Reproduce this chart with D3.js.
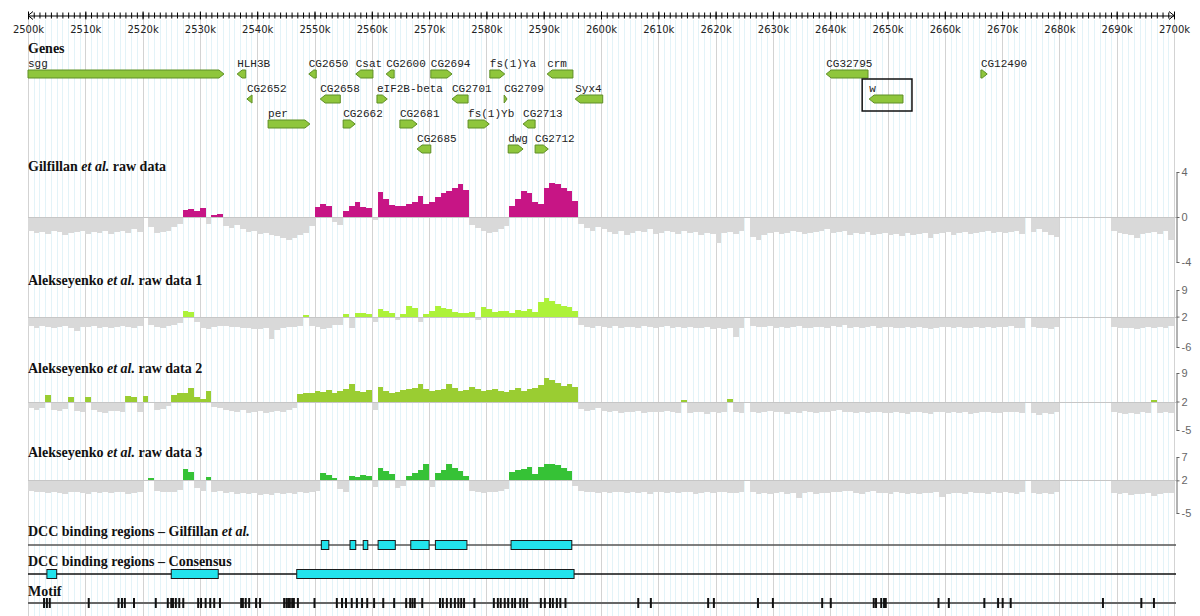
<!DOCTYPE html>
<html>
<head>
<meta charset="utf-8">
<script src="https://cdn.jsdelivr.net/npm/d3@7"></script>
<style>
body { margin: 0; background: #fff; }
svg { display: block; font-family: "DejaVu Sans", sans-serif; }
.title { font-family: "Liberation Serif", serif; font-weight: bold; font-size: 14px; fill: #111; }
.glabel { font-family: "Liberation Mono", monospace; font-size: 11px; fill: #222; }
</style>
</head>
<body>
<div id="chart"></div>
<script>
// ---------------- data ----------------
var regionStart = 2500000, regionEnd = 2700000, binSize = 1000;
var majorTicks = d3.range(2500000, 2700001, 10000);
var minorTicks = d3.range(2500000, 2700001, 1000);

var geneNames  = ["sgg", "HLH3B", "CG2652", "per", "CG2650", "CG2658", "CG2662", "Csat", "eIF2B-beta", "CG2600",
                  "CG2681", "CG2685", "CG2694", "CG2701", "fs(1)Yb", "fs(1)Ya", "CG2709", "dwg", "CG2713", "CG2712",
                  "crm", "Syx4", "CG32795", "w", "CG12490"];
var geneStart  = [2500000, 2536500, 2538200, 2541900, 2549000, 2551000, 2555000, 2557200, 2560900, 2562500,
                  2564900, 2567900, 2570300, 2574000, 2576800, 2580600, 2583100, 2583800, 2586400, 2588500,
                  2590600, 2595500, 2639300, 2646800, 2666300];
var geneEnd    = [2534200, 2538000, 2539100, 2549200, 2550300, 2554500, 2557100, 2560200, 2562700, 2563900,
                  2567900, 2570300, 2574000, 2576800, 2580500, 2583200, 2583600, 2586400, 2588500, 2590800,
                  2595100, 2600300, 2646600, 2652700, 2667400];
var geneStrand = [1, -1, -1, 1, -1, -1, 1, -1, 1, -1,
                  1, -1, 1, -1, 1, 1, 1, 1, -1, 1,
                  -1, -1, -1, -1, 1];
var geneLevel  = [0, 0, 1, 2, 0, 1, 2, 0, 1, 0,
                  2, 3, 0, 1, 2, 0, 1, 3, 2, 3,
                  0, 1, 0, 1, 0];
var highlightGene = "w";

// 1 kb bins, 2500k .. 2699k  (null = no data)
var gilfillan = [
  -1.2,-1.4,-1.3,-1.5,-1.2,-1.3,-1.6,-1.4,-1.3,-1.2,
  -1.5,-1.3,-1.4,-1.2,-1.5,-1.3,-1.2,-1.4,-1.1,-1.3,
  null,-0.9,-1.4,-1.3,-1.2,-0.9,-0.6,0.6,0.7,0.5,
  0.8,-0.6,0.2,0.3,-0.8,-1.0,-0.7,-1.1,-1.3,-1.2,
  -1.5,-1.4,-1.6,-1.7,-1.9,-2.0,-1.9,-1.6,-1.4,-0.8,
  0.9,1.2,1.0,-0.4,-0.7,0.5,1.0,1.3,0.9,0.8,
  -0.3,2.2,1.6,1.1,1.0,1.0,1.2,1.3,1.9,1.2,
  1.3,1.8,2.1,2.3,2.6,2.9,2.4,-0.7,-1.0,-1.2,
  -1.4,-1.3,-1.1,-0.8,1.0,1.6,2.3,2.1,1.3,1.2,
  2.6,3.0,2.9,2.6,2.3,1.4,-0.6,-1.0,-1.2,-0.9,
  -1.1,-1.3,-1.5,-1.2,-1.6,-1.4,-1.2,-1.3,-1.1,-1.5,
  -1.4,-1.2,-1.3,-1.5,-1.2,-1.4,-1.3,-1.6,-1.4,-1.5,
  -2.3,-1.4,-1.3,-1.5,-1.2,null,-1.8,-2.0,-1.6,-1.4,
  -1.3,-1.5,-1.4,-1.2,-1.3,-1.5,-1.4,-1.3,-1.2,-1.1,
  -1.4,-1.3,-1.2,-1.6,-1.4,-1.5,-1.3,-1.6,-1.5,-1.4,
  -1.6,-1.5,-1.7,-1.4,-1.6,-1.5,-1.4,-1.9,-1.5,-1.4,
  -1.3,-1.6,-1.4,-1.3,-1.5,-1.4,-1.3,-1.2,-1.4,-1.3,
  -1.4,-1.3,-1.2,-1.5,null,-1.3,-1.1,-1.3,-1.6,-1.8,
  null,null,null,null,null,null,null,null,null,-1.2,
  -1.4,-1.5,-1.6,-1.9,-1.5,-1.4,-1.3,-1.5,-1.2,-2.0
];
var alek1 = [
  -0.5,-0.9,-0.6,-0.7,-1.1,-0.8,-0.6,-1.0,-1.9,-0.7,
  -0.8,-0.6,-0.9,-0.7,-1.0,-0.8,-0.5,-0.7,-0.9,-0.6,
  null,-0.3,-0.7,-0.9,-0.6,-0.2,0.4,3.5,3.1,0.6,
  -0.9,-1.2,-0.7,-0.5,-0.6,-0.8,-0.7,-1.0,-0.9,-1.2,
  -1.3,-1.1,-3.8,-1.5,-1.0,-0.8,-0.7,-0.6,2.5,-0.5,
  -0.8,-1.2,-1.0,-0.3,-0.1,2.8,-1.0,2.9,3.0,2.6,
  0.6,4.0,3.6,2.9,1.0,2.7,4.9,4.3,0.5,2.8,
  3.4,4.7,4.3,4.0,3.3,3.0,2.9,3.3,1.0,4.4,
  4.0,3.1,3.6,3.4,2.9,3.7,3.5,4.0,3.2,5.8,
  6.8,6.2,5.3,4.8,4.4,3.5,-0.2,-0.8,-0.9,-0.6,
  -0.7,-0.9,-0.6,-1.0,-0.8,-0.7,-0.9,-0.5,-0.8,-1.0,
  -0.7,-0.6,-0.9,-0.8,-1.0,-0.7,-0.9,-1.1,-0.8,-1.2,
  -1.0,-1.3,-0.9,-3.3,-1.1,null,-0.5,-0.8,-0.7,-0.6,
  -0.9,-0.7,-1.0,-0.8,-0.6,-0.9,-1.1,-0.7,-0.8,-1.0,
  -0.5,-0.7,-0.2,-0.9,-0.8,-1.0,-0.7,-0.6,-0.9,-0.7,
  -0.8,-1.0,-0.9,-0.7,-1.1,-0.8,-1.0,-1.2,-0.9,-0.7,
  -0.8,-1.0,-0.7,-0.9,-1.1,-0.8,-1.0,-0.7,-0.9,-0.8,
  -0.7,-0.5,-0.9,-1.0,null,-0.7,-1.1,-0.9,-1.2,-0.8,
  null,null,null,null,null,null,null,null,null,-0.7,
  -0.9,-1.1,-1.0,-1.3,-0.9,-0.8,-1.0,-0.7,-0.9,-0.6
];
var alek2 = [
  0.5,-0.2,0.3,3.5,0.0,-0.4,0.2,3.0,-0.3,-0.5,
  3.2,-0.2,-0.6,-0.8,-0.4,-0.3,-0.7,3.3,3.0,-0.5,
  3.4,null,-0.2,0.2,0.8,3.5,4.2,4.0,5.2,3.0,
  2.6,4.7,0.6,0.3,0.0,-0.3,-0.5,-0.2,-0.8,-0.6,
  -0.4,-0.9,-0.5,-0.3,-0.6,-0.2,0.3,3.8,4.2,4.0,
  4.5,4.3,4.8,4.1,4.6,5.0,6.3,4.7,4.4,4.9,
  0.0,5.6,4.6,4.2,4.4,4.8,5.0,5.2,6.3,5.1,
  4.6,4.9,5.0,6.4,5.3,4.7,4.9,5.5,5.0,4.6,
  4.8,5.1,4.7,4.4,4.9,5.3,4.6,5.0,5.4,6.0,
  7.7,7.3,6.5,5.8,6.3,5.6,0.2,-0.3,0.0,0.5,
  -0.3,-0.6,-0.4,-0.8,-0.5,-0.7,-0.4,-0.9,-0.6,-0.5,
  -0.7,-0.4,-0.6,-0.9,2.4,-0.8,-0.5,-0.7,-1.0,-0.6,
  -0.9,-0.7,2.6,-0.5,-0.8,null,-0.6,-0.9,-0.5,-0.4,
  -0.7,-0.5,-1.0,-0.6,-0.8,-0.4,-0.7,-0.9,-0.5,-0.6,
  -0.4,-0.2,-0.6,-0.5,-0.9,-0.7,-0.8,-0.6,-0.5,-0.8,
  -0.9,-0.6,-0.8,-1.0,-0.7,-0.5,-0.8,-1.1,-0.7,-0.6,
  -0.8,-0.6,-0.9,-0.7,-1.0,-0.8,-0.6,-0.7,-0.9,-0.8,
  -0.5,-0.7,-0.6,-0.8,null,-0.9,-1.2,-0.8,-1.0,-0.7,
  null,null,null,null,null,null,null,null,null,-0.6,
  -0.8,-1.0,-0.9,-1.1,-0.7,-0.8,2.4,-0.9,-0.6,-0.8
];
var alek3 = [
  -0.3,-0.6,-0.4,-0.8,-0.5,-0.7,-1.0,-0.6,-0.5,-0.8,
  -0.9,-0.6,-0.7,-0.4,-0.8,-0.6,-0.5,-0.9,-0.7,-0.4,
  null,2.4,-0.2,-0.5,-0.6,-0.4,0.0,4.4,3.8,0.3,
  -0.2,2.7,-0.4,-0.3,-0.8,-0.5,-0.9,-0.7,-1.0,-0.8,
  -1.1,-0.9,-1.2,-0.8,-1.0,-0.7,-0.9,-0.6,-0.8,-0.5,
  -0.3,3.5,3.2,2.6,0.2,-0.6,2.9,2.7,3.2,3.0,
  0.5,4.6,4.0,3.4,0.4,0.8,3.0,3.6,4.2,5.6,
  0.6,3.5,4.3,5.4,4.6,4.0,3.0,-0.2,-0.5,-0.7,
  -0.4,-0.6,-0.3,0.2,3.8,4.2,4.5,4.9,3.4,4.8,
  5.6,5.5,5.2,4.6,4.0,0.8,-0.3,-0.6,-0.4,-0.7,
  -0.5,-0.7,-0.4,-0.6,-0.8,-0.5,-0.7,-0.6,-0.9,-0.5,
  -0.6,-0.8,-0.5,-0.7,-0.4,-0.6,-0.9,-0.7,-0.5,-0.8,
  -0.6,-0.4,-0.7,-0.8,-0.5,null,-0.6,-0.9,-0.7,-1.0,
  -0.8,-0.6,-1.0,-0.7,-1.8,-0.8,-0.6,-0.9,-0.7,-0.8,
  -0.5,-0.6,-0.3,-0.2,-0.7,-0.9,-0.6,-0.3,-0.8,-0.7,
  -0.9,-0.6,-0.8,-1.0,-0.7,-0.9,-0.8,-0.7,-0.6,-1.5,
  -0.9,-0.7,-0.8,-1.0,-0.6,-0.8,-0.7,-0.9,-0.6,-0.8,
  -0.5,-0.7,-0.9,-0.6,null,-0.8,-1.0,-0.7,-0.9,-0.6,
  null,null,null,null,null,null,null,null,null,-0.7,
  -0.9,-0.8,-1.1,-0.9,-1.0,-0.8,-1.4,-0.9,-0.7,-0.8
];

var gilTicks = [4, 0, -4], alek1Ticks = [9, 2, -6], alek2Ticks = [9, 2, -5], alek3Ticks = [7, 2, -5];

var dccGilStart = [2551200, 2556200, 2558500, 2561100, 2566800, 2571100, 2584300];
var dccGilEnd   = [2552500, 2557200, 2559300, 2564100, 2570000, 2576600, 2594900];
var dccConStart = [2503300, 2525000, 2546900];
var dccConEnd   = [2505000, 2533200, 2595300];

var motifPos = [2502800, 2503300, 2503800, 2510600, 2515800, 2516400, 2516900, 2518500, 2522300, 2524400,
  2525000, 2525300, 2525800, 2526400, 2527100, 2529700, 2530200, 2531000, 2531800, 2532500,
  2533500, 2537200, 2537500, 2538000, 2538600, 2539800, 2540500, 2544700, 2545100, 2545400,
  2545700, 2546100, 2546400, 2547100, 2550000, 2553900, 2554800, 2555500, 2556500, 2557400,
  2558300, 2559200, 2560400, 2562000, 2563900, 2566000, 2566700, 2567100, 2567500, 2568800,
  2571900, 2572400, 2573100, 2573800, 2574500, 2575100, 2575600, 2576100, 2577900, 2581300,
  2582000, 2582500, 2583200, 2583800, 2584500, 2585000, 2585900, 2586500, 2587100, 2589500,
  2590200, 2591100, 2591600, 2592300, 2592900, 2593800, 2606500, 2608700, 2618700, 2619700,
  2627400, 2630000, 2638600, 2640100, 2647600, 2648000, 2648900, 2649400, 2649700, 2658900,
  2660700, 2666900, 2669300, 2670100, 2671500, 2687600, 2694300, 2696500];

// ---------------- drawing ----------------
var svg = d3.select("#chart").append("svg").attr("width", 1200).attr("height", 616);
var x = d3.scaleLinear().domain([regionStart, regionEnd]).range([28, 1174]);
var right = 1176;

// grid
svg.append("g").selectAll("line")
    .data(minorTicks.filter(function(d) { return d % 10000 !== 0; }))
    .enter().append("line")
    .attr("x1", function(d) { return Math.round(x(d)) + 0.5; })
    .attr("x2", function(d) { return Math.round(x(d)) + 0.5; })
    .attr("y1", 20).attr("y2", 616)
    .attr("stroke", "#e3f3f8");
svg.append("g").selectAll("line")
    .data(majorTicks)
    .enter().append("line")
    .attr("x1", function(d) { return Math.round(x(d)) + 0.5; })
    .attr("x2", function(d) { return Math.round(x(d)) + 0.5; })
    .attr("y1", 20).attr("y2", 616)
    .attr("stroke", "#d3d3d3");

// top ruler
var ruler = svg.append("g").attr("transform", "translate(0,15.5)");
ruler.append("g")
    .call(d3.axisBottom(x).tickValues(minorTicks).tickSize(3).tickSizeOuter(0).tickFormat(""))
    .call(function(g) { g.select(".domain").remove(); g.selectAll(".tick line").attr("y1", -3); });
ruler.append("g")
    .call(d3.axisBottom(x).tickValues(majorTicks).tickSize(4).tickSizeOuter(0).tickPadding(6)
        .tickFormat(function(d) { return d / 1000 + "k"; }))
    .call(function(g) {
        g.selectAll(".tick line").attr("y1", -4);
        g.selectAll("text").attr("font-size", 10).attr("fill", "#222").attr("font-family", "DejaVu Sans");
    });
ruler.append("path").attr("d", "M33,-4L28,0L33,4").attr("fill", "none").attr("stroke", "#000");
ruler.append("path").attr("d", "M1169,-4L1174,0L1169,4").attr("fill", "none").attr("stroke", "#000");

function title(yPos, parts) {
    var t = svg.append("text").attr("class", "title").attr("x", 28).attr("y", yPos);
    parts.forEach(function(p) {
        t.append("tspan").attr("font-style", p[1] ? "italic" : "normal").text(p[0]);
    });
}

// genes
title(53, [["Genes", false]]);
var rowTop = [70, 95, 120, 145];
var genes = geneNames.map(function(n, i) {
    return {name: n, start: geneStart[i], end: geneEnd[i], strand: geneStrand[i], level: geneLevel[i]};
});
function genePath(d) {
    var x0 = x(d.start), x1 = x(d.end), y0 = rowTop[d.level], h = 8, a = Math.min(5, x1 - x0);
    if (d.strand > 0)
        return "M" + x0 + "," + y0 + "H" + (x1 - a) + "L" + x1 + "," + (y0 + h / 2) + "L" + (x1 - a) + "," + (y0 + h) + "H" + x0 + "Z";
    return "M" + x1 + "," + y0 + "H" + (x0 + a) + "L" + x0 + "," + (y0 + h / 2) + "L" + (x0 + a) + "," + (y0 + h) + "H" + x1 + "Z";
}
var gg = svg.append("g").selectAll("g").data(genes).enter().append("g");
gg.append("path").attr("d", genePath)
    .attr("fill", "#8fc63c").attr("stroke", "#5f8f26").attr("stroke-width", 1);
gg.append("text").attr("class", "glabel")
    .attr("x", function(d) { return x(d.start); })
    .attr("y", function(d) { return rowTop[d.level] - 3; })
    .text(function(d) { return d.name; });
genes.filter(function(d) { return d.name === highlightGene; }).forEach(function(d) {
    svg.append("rect")
        .attr("x", x(d.start) - 7).attr("y", rowTop[d.level] - 16)
        .attr("width", x(d.end) - x(d.start) + 16).attr("height", 32)
        .attr("fill", "none").attr("stroke", "#111").attr("stroke-width", 1.5);
});

// wiggle tracks
function wiggle(values, color, pivot, ticks, top, bottom) {
    var y = d3.scaleLinear().domain([ticks[2], ticks[0]]).range([bottom, top]);
    var g = svg.append("g").attr("shape-rendering", "crispEdges");
    var bins = values.map(function(v, i) { return {v: v, i: i}; })
        .filter(function(d) { return d.v !== null; });
    g.selectAll("rect").data(bins).enter().append("rect")
        .attr("x", function(d) { return x(regionStart + d.i * binSize); })
        .attr("width", function(d) { return x(regionStart + (d.i + 1) * binSize) - x(regionStart + d.i * binSize); })
        .attr("y", function(d) { return y(Math.max(d.v, pivot)); })
        .attr("height", function(d) { return Math.abs(y(d.v) - y(pivot)); })
        .attr("fill", function(d) { return d.v > pivot ? color : "#d9d9d9"; });
    svg.append("line")
        .attr("x1", 28).attr("x2", right)
        .attr("y1", Math.round(y(pivot)) + 0.5).attr("y2", Math.round(y(pivot)) + 0.5)
        .attr("stroke", "#c6c6c6");
    svg.append("g").attr("transform", "translate(" + (right + 0.5) + ",0)")
        .call(d3.axisRight(y).tickValues(ticks).tickSize(3).tickSizeOuter(0).tickPadding(2)
            .tickFormat(function(d) { return String(d); }))
        .call(function(a) {
            a.select(".domain").attr("stroke", "#666");
            a.selectAll(".tick line").attr("stroke", "#666");
            a.selectAll("text").attr("fill", "#666").attr("font-size", 11);
        });
}

title(171, [["Gilfillan ", false], ["et al.", true], [" raw data", false]]);
wiggle(gilfillan, "#c71585", 0, gilTicks, 172, 262);
title(285, [["Alekseyenko ", false], ["et al.", true], [" raw data 1", false]]);
wiggle(alek1, "#adf23a", 2, alek1Ticks, 290, 347);
title(373, [["Alekseyenko ", false], ["et al.", true], [" raw data 2", false]]);
wiggle(alek2, "#9acd32", 2, alek2Ticks, 373, 430);
title(457, [["Alekseyenko ", false], ["et al.", true], [" raw data 3", false]]);
wiggle(alek3, "#36c236", 2, alek3Ticks, 457, 513);

// DCC binding regions
function regions(starts, ends, yLine, lineColor) {
    svg.append("line").attr("x1", 28).attr("x2", right)
        .attr("y1", yLine).attr("y2", yLine)
        .attr("stroke", lineColor).attr("stroke-width", 1.5);
    svg.append("g").selectAll("rect").data(starts).enter().append("rect")
        .attr("x", function(d) { return x(d); })
        .attr("width", function(d, i) { return x(ends[i]) - x(d); })
        .attr("y", yLine - 4.5).attr("height", 9)
        .attr("fill", "#22e3ec").attr("stroke", "#1a1a1a").attr("stroke-width", 1);
}
title(536, [["DCC binding regions \u2013 Gilfillan ", false], ["et al.", true]]);
regions(dccGilStart, dccGilEnd, 545, "#555");
title(566, [["DCC binding regions \u2013 Consensus", false]]);
regions(dccConStart, dccConEnd, 574, "#111");

// motif
title(596, [["Motif", false]]);
svg.append("line").attr("x1", 28).attr("x2", right).attr("y1", 603).attr("y2", 603)
    .attr("stroke", "#666").attr("stroke-width", 2);
svg.append("g").selectAll("line").data(motifPos).enter().append("line")
    .attr("x1", function(d) { return x(d); }).attr("x2", function(d) { return x(d); })
    .attr("y1", 598).attr("y2", 608)
    .attr("stroke", "#111").attr("stroke-width", 2);
</script>
</body>
</html>
